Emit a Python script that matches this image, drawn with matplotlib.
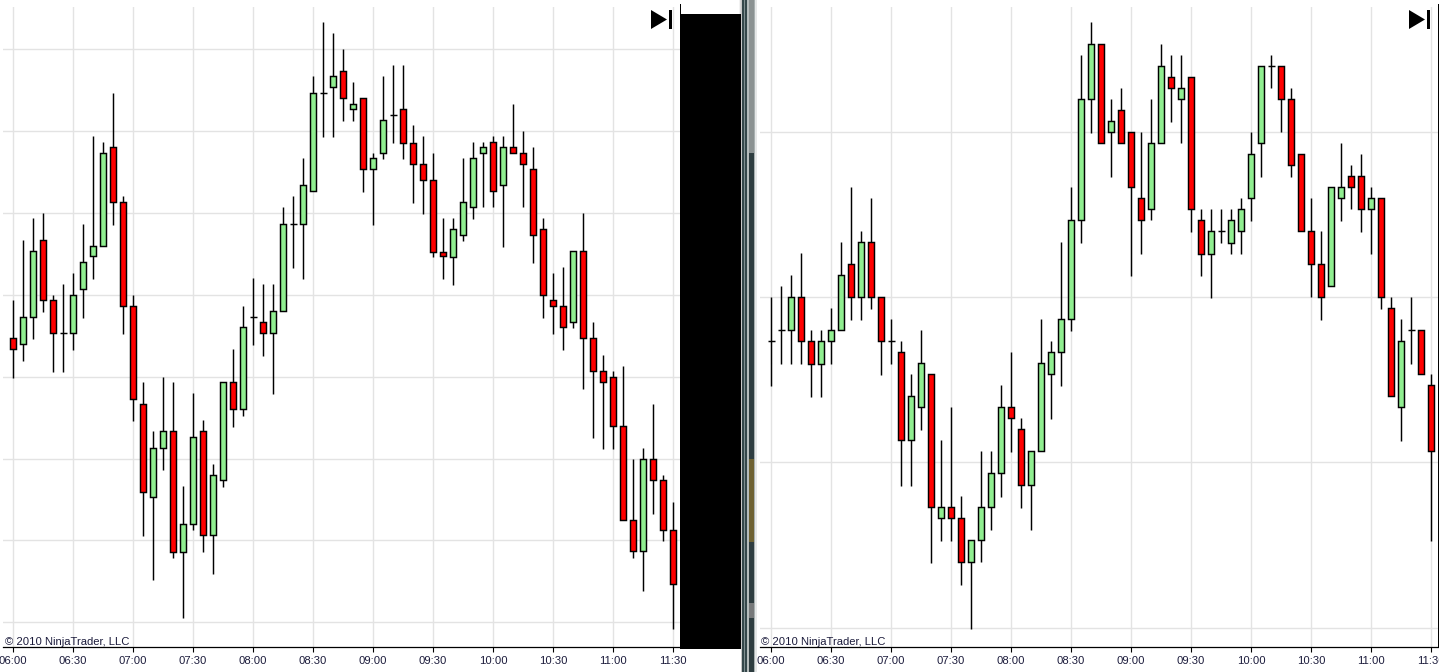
import matplotlib
matplotlib.use("Agg")
import matplotlib.pyplot as plt
from matplotlib.patches import Rectangle, Polygon

# Price scale is hidden in the source chart; levels are read as screen depth (larger = lower).
TIME_LABELS = ["06:00", "06:30", "07:00", "07:30", "08:00", "08:30", "09:00", "09:30",
               "10:00", "10:30", "11:00", "11:30"]
COPYRIGHT = "\u00a9 2010 NinjaTrader, LLC"

# body: g = up bar, r = down bar, d = doji
left_kind = ["r","g","g","r","r","d","g","g","g","g","r","r","r","r","g","g","r","g","g","r","g","g",
             "r","g","d","r","g","g","d","g","g","d","g","r","g","r","g","g","d","r","r","r","r","r",
             "g","g","g","g","r","g","r","r","r","r","r","r","g","r","r","r","r","r","r","g","r","r","r"]
left_high = [300,240,218,213,295,284,273,224,136,142,93,196,295,382,431,377,382,486,393,420,464,382,
             349,306,278,284,284,207,196,158,76,22,33,49,82,98,153,76,65,65,125,136,153,218,
             218,158,142,142,136,136,104,131,147,218,273,267,251,213,322,355,371,366,459,448,404,475,502]
left_top = [338,317,251,240,300,333,295,262,246,153,147,202,306,404,448,431,431,524,437,431,475,382,
            382,327,317,322,311,224,224,185,93,93,76,71,104,98,158,120,115,109,143,164,180,252,
            229,202,158,147,142,147,147,153,169,229,300,306,251,251,338,371,377,426,520,459,459,480,530]
left_bot = [349,344,317,300,333,333,333,289,256,246,202,306,399,492,497,448,552,552,524,535,535,480,
            409,409,317,333,333,311,224,224,191,93,87,98,109,169,169,153,115,143,164,180,252,256,
            257,235,207,153,191,185,153,164,235,295,306,327,322,338,371,382,426,520,551,551,480,530,584]
left_low = [378,361,339,312,372,372,350,318,279,246,225,334,421,536,580,470,558,618,530,552,574,487,
            427,416,345,356,394,311,268,279,191,137,137,121,121,192,225,159,143,159,203,214,257,279,
            285,241,219,207,207,247,153,207,263,318,334,350,328,389,438,449,449,520,558,591,514,541,629]

right_kind = ["d","d","g","r","r","g","g","g","r","g","r","r","d","r","g","g","r","g","r","r","g","g",
              "g","g","r","r","g","g","g","g","g","g","g","r","g","r","r","r","g","g","r","g","r","r",
              "g","d","g","g","g","g","d","r","r","r","r","r","g","g","r","r","g","r","r","g","d","r","r"]
right_high = [297,286,275,253,330,330,308,242,187,231,198,297,319,341,374,330,374,440,407,496,540,451,
              451,385,352,418,451,319,341,242,187,55,22,44,99,88,132,132,99,44,55,55,77,209,
              209,209,209,198,132,66,55,66,88,154,198,231,187,143,165,154,187,198,297,319,297,330,374]
right_top = [341,330,297,297,341,341,330,275,264,242,242,297,341,352,396,363,374,507,507,518,540,507,
             473,407,407,429,451,363,352,319,220,99,44,44,121,110,132,198,143,66,77,88,77,220,
             231,231,220,209,154,66,66,66,99,154,231,264,187,187,176,176,198,198,308,341,330,330,385]
right_bot = [341,330,330,341,364,364,341,330,297,297,297,341,341,440,440,407,507,518,518,562,562,540,
             507,473,418,485,485,451,374,352,319,220,99,143,132,143,187,220,209,143,88,99,209,254,
             254,231,243,231,198,143,66,99,165,231,264,297,286,198,187,209,209,297,396,407,330,374,451]
right_low = [386,364,364,364,397,397,364,330,320,320,309,375,364,486,486,430,563,541,541,585,629,562,
             530,497,452,508,530,451,419,386,331,243,133,143,177,143,276,254,220,143,122,143,232,276,
             298,243,254,254,221,177,88,132,177,231,297,320,286,221,209,232,254,309,396,441,364,374,541]

W, H = 1439, 672
GRID = "#e3e3e3"
TEXT = "#1c1c3c"
LW = 1.05
plt.rcParams["font.family"] = ["Liberation Sans", "DejaVu Sans"]
fig = plt.figure(figsize=(W / 100, H / 100), dpi=100, facecolor="white")


def px_axes(x0, x1, y0, y1):
    return fig.add_axes([x0 / W, 1 - y1 / H, (x1 - x0) / W, (y1 - y0) / H])


def panel(x0, x1, first_px, kind, high, top, bot, low, grid_levels, text_x):
    ax = px_axes(x0, x1, 7, 647)
    ax.set_xlim((x0 - first_px) / 10, (x1 - first_px) / 10)
    ax.set_ylim(647, 7)
    for s in ("top", "left", "right"):
        ax.spines[s].set_visible(False)
    ax.spines["bottom"].set_linewidth(0.9)
    ax.set_axisbelow(True)
    ax.set_yticks(grid_levels)
    ax.set_yticklabels([])
    ax.tick_params(axis="y", length=0)
    ax.set_xticks([6 * k for k in range(len(TIME_LABELS))])
    ax.set_xticklabels(TIME_LABELS, fontsize=8.1, color=TEXT)
    ax.tick_params(axis="x", length=3.8, width=0.8, pad=2.8, color="black")
    ax.grid(True, color=GRID, linewidth=1.0)
    xs = list(range(len(kind)))
    ax.vlines(xs, high, low, color="black", linewidth=LW, zorder=3)
    for x, k, t, b in zip(xs, kind, top, bot):
        if k == "d":
            ax.hlines(t, x - 0.35, x + 0.35, color="black", linewidth=LW, zorder=4)
        else:
            ax.bar(x, b - t, bottom=t, width=0.6,
                   color="#90ee90" if k == "g" else "#ff0000",
                   edgecolor="black", linewidth=LW, zorder=4)
    ax.text(text_x, 642, COPYRIGHT, fontsize=8.1, color=TEXT, ha="left", va="center", zorder=5)
    return ax


panel(3, 680, 13, left_kind, left_high, left_top, left_bot, left_low,
      [49, 131, 213, 295, 377, 459, 540, 622], (5 - 13) / 10)
panel(760, 1438, 771, right_kind, right_high, right_top, right_bot, right_low,
      [132, 297, 462, 628], (761 - 771) / 10)

# Overlay furniture in figure pixels
ov = fig.add_axes([0, 0, 1, 1], zorder=10)
ov.set_xlim(0, W)
ov.set_ylim(H, 0)
ov.axis("off")


def rect(x0, y0, x1, y1, c):
    ov.add_patch(Rectangle((x0, y0), x1 - x0, y1 - y0, facecolor=c, edgecolor="none"))


for bx in (651, 1409):
    ov.add_patch(Polygon([(bx, 10), (bx + 16, 19.5), (bx, 29)], closed=True, facecolor="black", edgecolor="none"))
    rect(bx + 17.5, 10, bx + 20.5, 29, "black")

rect(680, 14, 741, 649, "black")
rect(680, 4, 681, 14, "black")
rect(1437.5, 4, 1438.5, 647, "black")

# window splitter between the two charts
for i, c in enumerate(["#f2f2f2", "#d8d8d8"]):
    rect(739 + i, 0, 740 + i, 14, c)
rect(741, 0, 742, H, "#c8c8c8")
rect(742, 0, 747, H, "#34474a")
rect(744, 0, 745, H, "#7f8f90")
rect(747, 0, 749, H, "#b5bcbc")
rect(749, 0, 754, 153, "#8b9292")
rect(749, 153, 754, H, "#2e3d40")
rect(749, 459, 754, 542, "#6e6232")
rect(749, 603, 754, 618, "#77797a")
rect(754, 0, 755, H, "#a8b0b0")
rect(755, 0, 757, H, "#e6e8e8")

fig.savefig("out.png", dpi=100, facecolor="white")
